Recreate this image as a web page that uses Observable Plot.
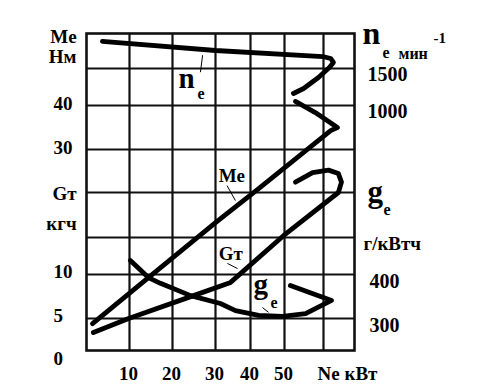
<!DOCTYPE html>
<html><head><meta charset="utf-8">
<script src="https://cdn.jsdelivr.net/npm/d3@7"></script>
<script src="https://cdn.jsdelivr.net/npm/@observablehq/plot@0.6"></script>
<style>html,body{margin:0;padding:0;background:#fff} svg{display:block}</style>
</head><body><div id="chart"></div>
<script>
// ---- data (x = Ne, kW) ----
const neNe  = [3.7, 30, 59.8, 62.3, 63.2, 61.9, 58.7, 54.9, 52.3];
const neRpm = [1886, 1757, 1671, 1643, 1586, 1514, 1378, 1230, 1162];
const meNe  = [1.4, 14.4, 30, 42.4, 62.3, 64.5, 57.9, 52.8];
const meNm  = [-11.6, -0.7, 13.3, 20.9, 34.3, 35.0, 38.4, 41.1];
const gtNe  = [1.6, 9.8, 24.9, 34.3, 49.7, 64.8, 65.8, 64.8, 61.6, 57.2, 52.8];
const gtKgh = [2.8, 5.0, 7.6, 9.1, 15.2, 20.0, 21.2, 22.2, 22.6, 22.3, 21.2];
const geNe  = [10.2, 14.4, 17.2, 24.2, 31.4, 35.7, 42.4, 49.4, 55.4, 62.6, 51.5];
const geG   = [438, 393, 380, 352, 334, 318, 307, 305, 311, 341, 375];
const xTicks  = [10, 20, 30, 40, 50];
const xGrid   = [10, 20, 30, 40, 50, 60];
const gtGrid  = [5, 10, 15, 20, 25, 30, 35];
const meTicks = [40, 30];
const gtTicks = [10, 5];
const nTicks  = [1500, 1000];
const geTicks = [400, 300];

// all series share the Gт (кг/ч) vertical scale through linear axis relations
const fromMe = m => m / 2 + 10;
const fromN  = n => n / 100 + 20;
const fromGe = g => g / 20 - 10;

const series = (xs, ys, f) => xs.map((x, i) => ({x, y: f(ys[i])}));
const neData = series(neNe, neRpm, fromN);
const meData = series(meNe, meNm, fromMe);
const gtData = series(gtNe, gtKgh, v => v);
const geData = series(geNe, geG, fromGe);

// hand-drawn grid: unequal cell sizes -> piecewise scale transforms
const xWarp = d3.scaleLinear().domain([0, 10, 20, 30, 40, 50, 60, 70]).range([0, 43, 86, 129, 164, 198, 237, 268]);
const yWarp = d3.scaleLinear().domain([0, 5, 10, 15, 20, 25, 30, 35, 40]).range([0, 32, 76, 113, 158, 201, 245, 282, 317]);

const F = "Liberation Serif, Times New Roman, serif";
const ML = 86, MT = 33, FS = 19;
const at = (str, px, py, size, anchor = "start") =>
  Plot.text([str], {text: d => d, frameAnchor: "top-left", dx: px - ML, dy: py - MT,
    fontSize: size, fontWeight: "bold", textAnchor: anchor, lineAnchor: "bottom", fill: "#000"});
const lbl = (str, x, y, size) =>
  Plot.text([str], {text: d => d, x: () => x, y: () => y, fontSize: size, fontWeight: "bold",
    textAnchor: "start", lineAnchor: "bottom", fill: "#000"});

const curve = {x: "x", y: "y", stroke: "#000", strokeWidth: 4.8, strokeLinecap: "round", strokeLinejoin: "round"};

const chart = Plot.plot({
  width: 484, height: 384,
  marginLeft: ML, marginRight: 130, marginTop: MT, marginBottom: 34,
  style: {fontFamily: F, background: "#fff"},
  x: {transform: xWarp, domain: [0, 268], axis: null},
  y: {transform: yWarp, domain: [0, 317], axis: null},
  marks: [
    Plot.ruleX(xGrid, {stroke: "#111", strokeWidth: 2.2}),
    Plot.ruleY(gtGrid, {stroke: "#111", strokeWidth: 2.2}),
    Plot.frame({stroke: "#111", strokeWidth: 2.6}),
    Plot.line(neData, curve),
    Plot.line(meData, curve),
    Plot.line(gtData, curve),
    Plot.line(geData, curve),
    // leader lines
    Plot.link([{x1: 27.0, y1: 36.9, x2: 26.5, y2: 34.5}, {x1: 33.3, y1: 20.8, x2: 35.7, y2: 19.1},
               {x1: 33.4, y1: 11.5, x2: 36.3, y2: 10.8}, {x1: 43.5, y1: 6.25, x2: 45.3, y2: 5.7}],
      {x1: "x1", y1: "y1", x2: "x2", y2: "y2", stroke: "#000", strokeWidth: 1}),
    // curve labels
    lbl("n", 21.4, 32.3, 29), lbl("e", 25.8, 30.9, 16),
    lbl("Me", 30.9, 21.2, FS),
    lbl("Gт", 30.9, 11.9, FS),
    lbl("g", 40.9, 7.8, 29), lbl("e", 45.9, 6.25, 16),
    // left axis
    Plot.text(meTicks, {y: fromMe, text: String, frameAnchor: "left", dx: -33, dy: 4, textAnchor: "start", lineAnchor: "bottom", fontSize: FS, fontWeight: "bold"}),
    Plot.text(gtTicks, {y: d => d, text: String, frameAnchor: "left", dx: -33, dy: 3, textAnchor: "start", lineAnchor: "bottom", fontSize: FS, fontWeight: "bold"}),
    Plot.text([0], {y: d => d, text: String, frameAnchor: "left", dx: -33, dy: 14, textAnchor: "start", lineAnchor: "bottom", fontSize: FS, fontWeight: "bold"}),
    at("Me", 63, 42, FS, "middle"), at("Нм", 62, 62, FS, "middle"),
    at("Gт", 64, 199, FS, "middle"), at("кгч", 61, 229, FS, "middle"),
    // right axis
    Plot.text(nTicks, {y: fromN, text: String, frameAnchor: "right", dx: 13, dy: 12, textAnchor: "start", lineAnchor: "bottom", fontSize: 20, fontWeight: "bold"}),
    Plot.text(geTicks, {y: fromGe, text: String, frameAnchor: "right", dx: 15, dy: 13, textAnchor: "start", lineAnchor: "bottom", fontSize: 20, fontWeight: "bold"}),
    at("n", 362, 43, 32), at("e", 382, 57, 16), at("мин", 398, 58, 16), at("-1", 433, 42, 15),
    at("g", 367, 201, 31), at("e", 383, 214, 16),
    at("г/кВтч", 363, 249, FS),
    // bottom axis
    Plot.text(xTicks, {x: d => d, text: String, frameAnchor: "bottom", dy: 29, dx: -1, textAnchor: "middle", lineAnchor: "bottom", fontSize: FS, fontWeight: "bold"}),
    at("Ne кВт", 347, 379, FS, "middle")
  ]
});
document.getElementById("chart").append(chart);
</script>
</body></html>
